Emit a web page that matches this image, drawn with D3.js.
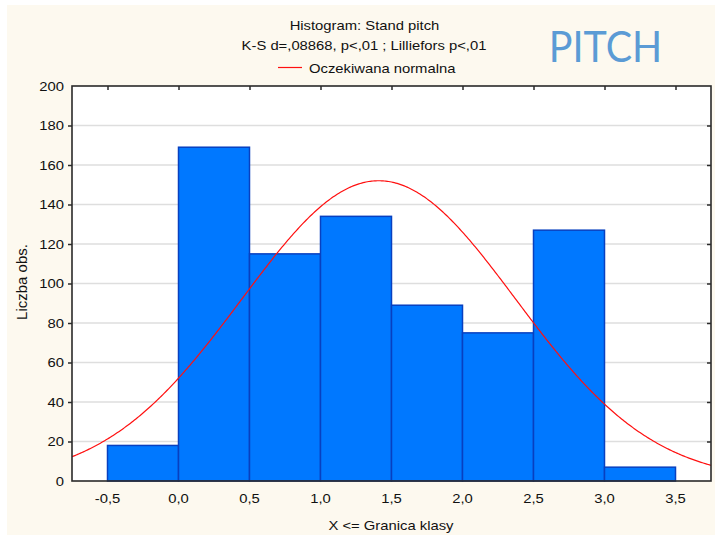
<!DOCTYPE html>
<html>
<head>
<meta charset="utf-8">
<script src="https://cdn.jsdelivr.net/npm/d3@7"></script>
<style>
  html, body { margin: 0; padding: 0; background: #ffffff; }
  svg { display: block; }
  text { font-family: "Liberation Sans", Arial, sans-serif; fill: #111; }
</style>
</head>
<body>
<svg id="chart" width="715" height="535"></svg>
<script>
// Class boundaries (upper limits) and observed counts per class
const binStarts = [-0.5, 0.0, 0.5, 1.0, 1.5, 2.0, 2.5, 3.0];
const binWidth = 0.5;
const counts = [18, 169, 115, 134, 89, 75, 127, 7];

// Axis ticks and labels
const xTicks = [-0.5, 0.0, 0.5, 1.0, 1.5, 2.0, 2.5, 3.0, 3.5];
const xTickLabels = ["-0,5", "0,0", "0,5", "1,0", "1,5", "2,0", "2,5", "3,0", "3,5"];
const yTicks = [0, 20, 40, 60, 80, 100, 120, 140, 160, 180, 200];

// Fitted normal distribution parameters
const fitMean = 1.41;
const fitSd = 0.963;

const titleLines = ["Histogram: Stand pitch", "K-S d=,08868, p<,01 ; Lilliefors p<,01"];
const legendLabel = "Oczekiwana normalna";
const xLabel = "X <= Granica klasy";
const yLabel = "Liczba obs.";
const badge = "PITCH";

const svg = d3.select("#chart");
const W = 715, H = 535;
const plot = { left: 72, top: 86, right: 711, bottom: 481 };
const stretch = 1.14;

svg.append("rect").attr("x", 7).attr("y", 5).attr("width", W - 7).attr("height", H - 5)
  .attr("fill", "#fdf9ef");

const x = d3.scaleLinear().domain([-0.75, 3.75]).range([plot.left, plot.right]);
const y = d3.scaleLinear().domain([0, 200]).range([plot.bottom, plot.top]);

svg.append("rect")
  .attr("x", plot.left).attr("y", plot.top)
  .attr("width", plot.right - plot.left).attr("height", plot.bottom - plot.top)
  .attr("fill", "#ffffff");

// Horizontal grid
svg.append("g").selectAll("line")
  .data(yTicks.filter(v => v > 0 && v < 200))
  .join("line")
  .attr("x1", plot.left).attr("x2", plot.right)
  .attr("y1", d => y(d)).attr("y2", d => y(d))
  .attr("stroke", "#dedede").attr("stroke-width", 1.5);

// Histogram bars
const bins = binStarts.map((s, i) => ({ x0: s, x1: s + binWidth, n: counts[i] }));
svg.append("g").selectAll("rect")
  .data(bins)
  .join("rect")
  .attr("x", d => x(d.x0))
  .attr("y", d => y(d.n))
  .attr("width", d => x(d.x1) - x(d.x0))
  .attr("height", d => y(0) - y(d.n))
  .attr("fill", "#0078ff")
  .attr("stroke", "#0840c0")
  .attr("stroke-width", 1.5);

// Expected normal curve scaled to class width and total count
const total = d3.sum(counts);
const expected = v => total * binWidth *
  Math.exp(-0.5 * ((v - fitMean) / fitSd) ** 2) / (fitSd * Math.sqrt(2 * Math.PI));
const curveData = d3.range(-0.75, 3.7501, 0.01).map(v => [v, expected(v)]);

svg.append("clipPath").attr("id", "plotClip")
  .append("rect").attr("x", plot.left).attr("y", plot.top)
  .attr("width", plot.right - plot.left).attr("height", plot.bottom - plot.top);

svg.append("path")
  .datum(curveData)
  .attr("clip-path", "url(#plotClip)")
  .attr("fill", "none")
  .attr("stroke", "#ff1010")
  .attr("stroke-width", 1.2)
  .attr("d", d3.line().x(d => x(d[0])).y(d => y(d[1])));

// Frame
svg.append("rect")
  .attr("x", plot.left).attr("y", plot.top)
  .attr("width", plot.right - plot.left).attr("height", plot.bottom - plot.top)
  .attr("fill", "none").attr("stroke", "#2a2a2a").attr("stroke-width", 1.6);

// Axes via d3 axis generators
const axisStyle = g => {
  g.select(".domain").remove();
  g.selectAll(".tick line").attr("stroke", "#2a2a2a").attr("stroke-width", 1.5);
};

svg.append("g")
  .attr("transform", `translate(0,${plot.top})`)
  .call(d3.axisBottom(x).tickValues(xTicks).tickSize(4).tickFormat(""))
  .call(axisStyle);

svg.append("g")
  .attr("transform", `translate(${plot.right},0)`)
  .call(d3.axisLeft(y).tickValues(yTicks.filter(v => v > 0 && v < 200)).tickSize(4).tickFormat(""))
  .call(axisStyle);

svg.append("g")
  .attr("transform", `translate(${plot.left},0)`)
  .call(d3.axisLeft(y).tickValues(yTicks.filter(v => v > 0 && v < 200)).tickSize(4).tickFormat(""))
  .call(axisStyle);

// Horizontally stretched text helper
function label(px, py, str, anchor, size, sx = stretch) {
  return svg.append("text")
    .attr("transform", `translate(${px},${py}) scale(${sx},1)`)
    .attr("text-anchor", anchor)
    .attr("font-size", size)
    .text(str);
}

// Tick labels
xTicks.forEach((v, i) => label(x(v), 503, xTickLabels[i], "middle", 13));
yTicks.forEach(v => label(64, y(v) + 4.6, String(v), "end", 13));

// Titles and legend
label(364.5, 30, titleLines[0], "middle", 13);
label(364, 49.5, titleLines[1], "middle", 13);
svg.append("line")
  .attr("x1", 278).attr("x2", 302).attr("y1", 67.5).attr("y2", 67.5)
  .attr("stroke", "#ff1010").attr("stroke-width", 1.2);
label(309, 72.5, legendLabel, "start", 13);

// Axis titles
label(391, 530, xLabel, "middle", 13);
svg.append("text")
  .attr("transform", `translate(27,282) rotate(-90)`)
  .attr("text-anchor", "middle")
  .attr("font-size", 15)
  .text(yLabel);

// Badge
label(605.5, 61.5, badge, "middle", 42, 0.94)
  .style("font-family", "Lato, 'Open Sans', sans-serif")
  .style("fill", "#5b9bd5");
</script>
</body>
</html>
